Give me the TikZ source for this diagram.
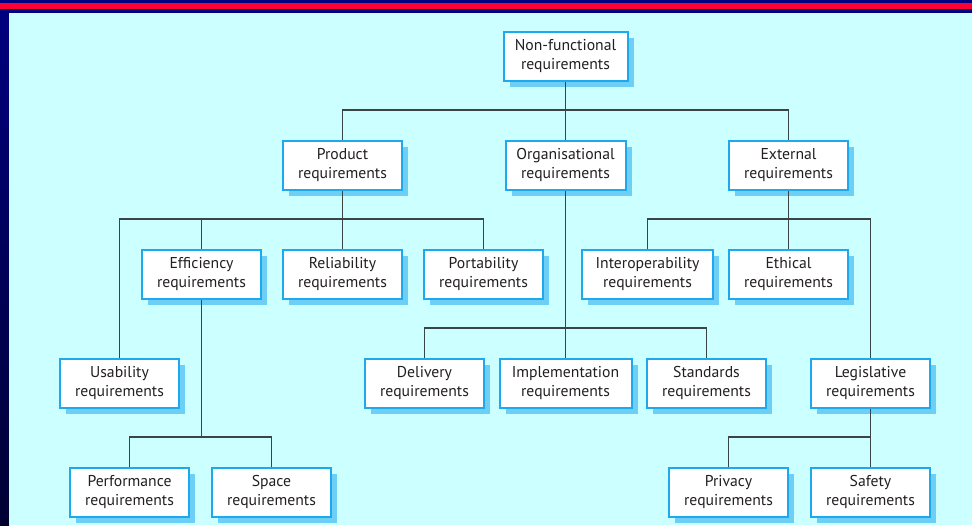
\documentclass[tikz,border=0pt]{standalone}
\usepackage{fontspec}
\setmainfont{PT Sans}
\usetikzlibrary{shadows}
\definecolor{bgc}{HTML}{CCFFFF}
\definecolor{navy}{HTML}{000080}
\definecolor{navyd}{HTML}{000033}
\definecolor{redc}{HTML}{FF0033}
\definecolor{boxc}{HTML}{1EA8EE}
\definecolor{shc}{HTML}{6DCFF6}
\definecolor{linec}{HTML}{3A4444}
\definecolor{txtc}{HTML}{231F20}
\newcommand\twolines[2]{\strut#1\\\strut#2}
\tikzset{
  box/.style={draw=boxc, line width=2pt, fill=white, align=center, text=txtc,
    font=\fontsize{15.7}{19}\selectfont, minimum height=49pt, inner sep=0pt,
    drop shadow={shadow xshift=6pt, shadow yshift=-6pt, fill=shc, opacity=1}},
  conn/.style={draw=linec, line width=1.2pt}
}
\begin{document}
\begin{tikzpicture}[x=1pt,y=-1pt]
\useasboundingbox (0,0) rectangle (972,525);
\fill[navy] (0,0) rectangle (972,13);
\shade[top color=navy, bottom color=navyd] (0,0) rectangle (9,525);
\fill[redc] (0,3) rectangle (972,8.5);
\fill[bgc] (9,13) rectangle (972,525);

% nodes
\node[box, minimum width=124pt] (nf) at (565.5,56.5) {\twolines{Non-functional}{requirements}};
\node[box, minimum width=119pt] (prod) at (342.5,165.5) {\twolines{Product}{requirements}};
\node[box, minimum width=120pt] (org) at (565.5,165.5) {\twolines{Organisational}{requirements}};
\node[box, minimum width=119pt] (ext) at (788.5,165.5) {\twolines{External}{requirements}};
\node[box, minimum width=119pt] (eff) at (201.5,274.5) {\twolines{Efficiency}{requirements}};
\node[box, minimum width=119pt] (rel) at (342.5,274.5) {\twolines{Reliability}{requirements}};
\node[box, minimum width=119pt] (port) at (483.5,274.5) {\twolines{Portability}{requirements}};
\node[box, minimum width=131pt] (inter) at (647.5,274.5) {\twolines{Interoperability}{requirements}};
\node[box, minimum width=119pt] (eth) at (788.5,274.5) {\twolines{Ethical}{requirements}};
\node[box, minimum width=119pt] (usa) at (119.5,383.5) {\twolines{Usability}{requirements}};
\node[box, minimum width=119pt] (del) at (424.5,383.5) {\twolines{Delivery}{requirements}};
\node[box, minimum width=132pt] (impl) at (565.5,383.5) {\twolines{Implementation}{requirements}};
\node[box, minimum width=119pt] (std) at (706.5,383.5) {\twolines{Standards}{requirements}};
\node[box, minimum width=119pt] (leg) at (870.5,383.5) {\twolines{Legislative}{requirements}};
\node[box, minimum width=119pt] (perf) at (129.5,492) {\twolines{Performance}{requirements}};
\node[box, minimum width=119pt] (space) at (271.5,492) {\twolines{Space}{requirements}};
\node[box, minimum width=119pt] (priv) at (728.5,492) {\twolines{Privacy}{requirements}};
\node[box, minimum width=119pt] (safe) at (870.5,492) {\twolines{Safety}{requirements}};

% junctions
\coordinate (j1) at (nf.south |- 0,110);
\coordinate (j2) at (prod.south |- 0,219);
\coordinate (j3) at (org.south |- 0,328);
\coordinate (j4) at (ext.south |- 0,219);
\coordinate (j5) at (eff.south |- 0,437);
\coordinate (j6) at (leg.south |- 0,437);

% connectors
\draw[conn] (nf.south) -- (j1);
\draw[conn] (prod.north) |- (j1) -| (ext.north);
\draw[conn] (org.north) -- (j1);
\draw[conn] (prod.south) -- (rel.north);
\draw[conn] (usa.north) |- (j2) -| (port.north);
\draw[conn] (eff.north) -- (eff.north |- j2);
\draw[conn] (org.south) -- (impl.north);
\draw[conn] (del.north) |- (j3) -| (std.north);
\draw[conn] (ext.south) -- (eth.north);
\draw[conn] (inter.north) |- (j4) -| (leg.north);
\draw[conn] (eff.south) -- (j5);
\draw[conn] (perf.north) |- (j5) -| (space.north);
\draw[conn] (leg.south) -- (safe.north);
\draw[conn] (priv.north) |- (j6);
\end{tikzpicture}
\end{document}
